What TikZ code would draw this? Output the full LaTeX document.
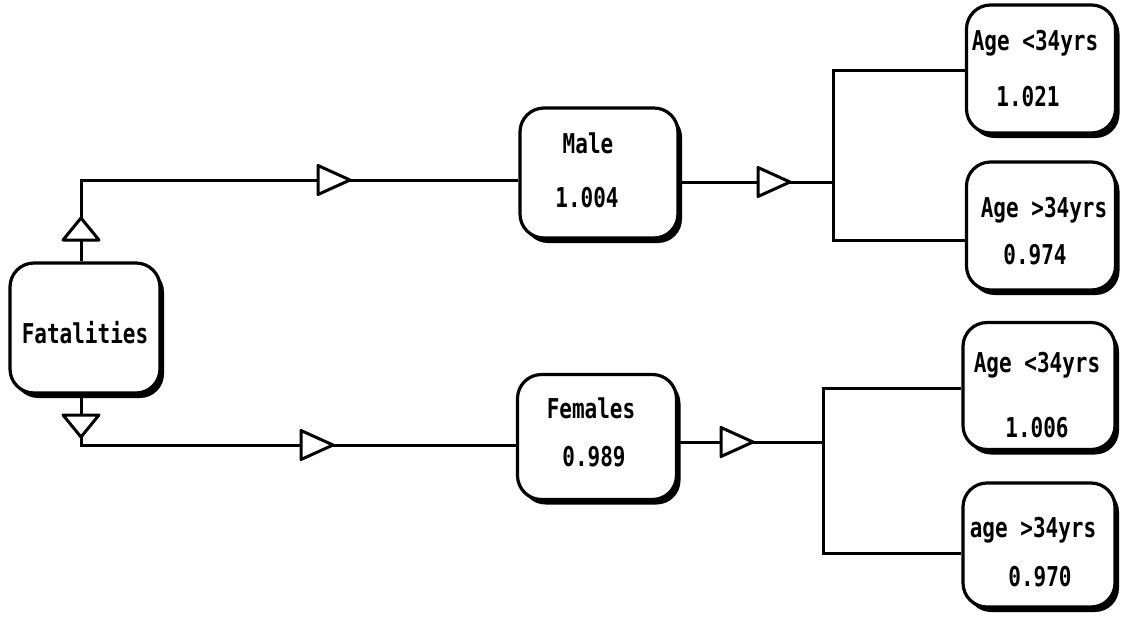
\documentclass[tikz,border=0pt]{standalone}
\usepackage{graphicx}
\usepackage{fontspec}
\setmonofont{DejaVu Sans Mono}
\usetikzlibrary{shapes.geometric,shadows}
\newcommand\tallt[1]{\scalebox{1}[1.3]{#1}}
\begin{document}
\begin{tikzpicture}[x=1pt,y=-1pt,line width=3pt,
  box/.style={draw,fill=white,rounded corners=24pt,line width=3.2pt,inner sep=0pt,
    drop shadow={shadow xshift=4pt,shadow yshift=-5pt,opacity=1,fill=black}},
  txt/.style={font=\ttfamily\bfseries\fontsize{21}{21}\selectfont,inner sep=0pt},
  tri/.style={draw,fill=white,isosceles triangle,isosceles triangle stretches,
    inner sep=0pt,outer sep=0pt,line width=3pt,line join=round,anchor=lower side},
  rtri/.style={tri,minimum width=29pt,minimum height=32pt},
  vtri/.style={tri,minimum width=36pt,minimum height=22pt}]
\useasboundingbox (0,0) rectangle (1122,622);
% boxes
\node[box,minimum width=150pt,minimum height=130pt] (fat) at (85,328) {};
\node[box,minimum width=158pt,minimum height=130pt] (male) at (599,173) {};
\node[box,minimum width=159pt,minimum height=125pt] (fem) at (597,437) {};
\node[box,minimum width=149pt,minimum height=128pt] (r1) at (1041,69) {};
\node[box,minimum width=149pt,minimum height=128pt] (r2) at (1041,226) {};
\node[box,minimum width=152pt,minimum height=127pt] (r3) at (1039,386) {};
\node[box,minimum width=152pt,minimum height=124pt] (r4) at (1039,545) {};
% texts
\node[txt] (fatT) at (85,333) {\tallt{Fatalities}};
\node[txt] (maleT) at (588,143) {\tallt{Male}};
\node[txt] (maleV) at (587,198) {\tallt{1.004}};
\node[txt] (femT) at (591,408) {\tallt{Females}};
\node[txt] (femV) at (594,457) {\tallt{0.989}};
\node[txt] (r1T) at (1035,43) {\tallt{Age <34yrs}};
\node[txt] (r1V) at (1028,97) {\tallt{1.021}};
\node[txt] (r2T) at (1044,210) {\tallt{Age >34yrs}};
\node[txt] (r2V) at (1035,255) {\tallt{0.974}};
\node[txt] (r3T) at (1037,365) {\tallt{Age <34yrs}};
\node[txt] (r3V) at (1037,428) {\tallt{1.006}};
\node[txt] (r4T) at (1033,530) {\tallt{age >34yrs}};
\node[txt] (r4V) at (1040,577) {\tallt{0.970}};
% triangles
\node[vtri,shape border rotate=90] (tu) at (81,240) {};
\node[vtri,shape border rotate=270] (td) at (81,415) {};
\node[rtri] (t1) at (318,180) {};
\node[rtri] (t2) at (301,445) {};
\node[rtri] (t3) at (758,182) {};
\node[rtri] (t4) at (721,442) {};
% junctions
\coordinate (j1) at (833,182);
\coordinate (j1a) at (833,70);
\coordinate (j1b) at (833,240);
\coordinate (j2) at (823,442);
\coordinate (j2a) at (823,388);
\coordinate (j2b) at (823,553);
% connectors
\draw (tu.lower side |- fat.north) -- (tu.lower side);
\draw (tu.apex) |- (t1.lower side);
\draw (t1.apex) -- (t1.apex -| male.west);
\draw (td.lower side |- fat.south) -- (td.lower side);
\draw (td.apex) |- (t2.lower side);
\draw (t2.apex) -- (t2.apex -| fem.west);
\draw (t3.lower side -| male.east) -- (t3.lower side);
\draw (t3.apex) -- (j1);
\draw (j1a -| r1.west) -- (j1a) -- (j1b) -- (j1b -| r2.west);
\draw (t4.lower side -| fem.east) -- (t4.lower side);
\draw (t4.apex) -- (j2);
\draw (j2a -| r3.west) -- (j2a) -- (j2b) -- (j2b -| r4.west);
\end{tikzpicture}
\end{document}
